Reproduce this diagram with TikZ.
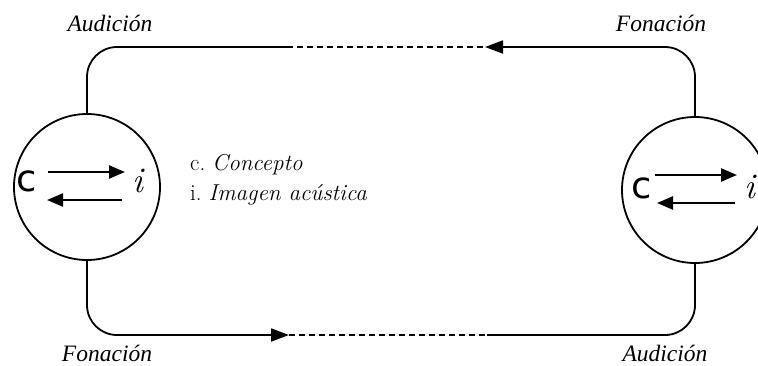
\documentclass[tikz,border=0pt]{standalone}
\usepackage{fontspec}
\newfontfamily\labfont{Liberation Serif}
\newfontfamily\letterfont{DejaVu Sans}
\usetikzlibrary{arrows.meta}
\begin{document}
\begin{tikzpicture}[x=1pt,y=-1pt,
  conn/.style={line width=1.8pt, rounded corners=30pt},
  dashline/.style={line width=1.5pt, dash pattern=on 6pt off 4pt},
  head/.style={-{Triangle[length=18pt,width=13pt]}},
  lab/.style={font=\fontsize{23.5}{27}\selectfont\labfont\itshape, anchor=base, inner sep=0pt},
  legend/.style={font=\fontsize{23}{27}\selectfont, anchor=base west, inner sep=0pt},
  mind/.style={circle, draw, line width=1.8pt, minimum size=146pt, inner sep=0pt},
  letterc/.style={font=\fontsize{37}{37}\selectfont\letterfont, inner sep=0pt},
  letteri/.style={font=\fontsize{36}{36}\selectfont\itshape, inner sep=0pt},
  inarrow/.style={line width=2.4pt, -{Triangle[length=16pt,width=13pt]}}
]
\useasboundingbox (0,0) rectangle (758,365);
\node[mind] (L) at (87,187) {};
\node[mind] (R) at (695,190) {};
% letters
\node[letterc] (Lc) at (27,181) {c};
\node[letteri] (Li) at (138,181) {i};
\node[letterc] (Rc) at (642,188) {c};
\node[letteri] (Ri) at (750,187) {i};
% inner arrows
\coordinate (L1s) at (48,172); \coordinate (L1e) at (125,172);
\coordinate (L2s) at (122,200); \coordinate (L2e) at (47,200);
\coordinate (R1s) at (655,175); \coordinate (R1e) at (737,175);
\coordinate (R2s) at (735,203); \coordinate (R2e) at (657,203);
\draw[inarrow] (L1s) -- (L1e);
\draw[inarrow] (L2s) -- (L2e);
\draw[inarrow] (R1s) -- (R1e);
\draw[inarrow] (R2s) -- (R2e);
% connectors
\coordinate (ta) at (287,47); \coordinate (tb) at (485,47);
\draw[conn] (L.north) |- (ta);
\draw[dashline] (ta) -- (tb);
\draw[conn, head] (R.north) |- (tb);
\coordinate (ba) at (289,335); \coordinate (bb) at (487,335);
\draw[conn, head] (L.south) |- (ba);
\draw[dashline] (ba) -- (bb);
\draw[conn] (R.south) |- (bb);
% labels
\node[lab] (a1) at (110,31) {Audición};
\node[lab] (f1) at (661,31) {Fonación};
\node[lab] (f2) at (107,361) {Fonación};
\node[lab] (a2) at (665,361) {Audición};
% legend
\node[legend] (lc) at (190,170) {c.\ \textit{Concepto}};
\node[legend] (li) at (190,200) {i.\ \textit{Imagen acústica}};
\end{tikzpicture}
\end{document}
